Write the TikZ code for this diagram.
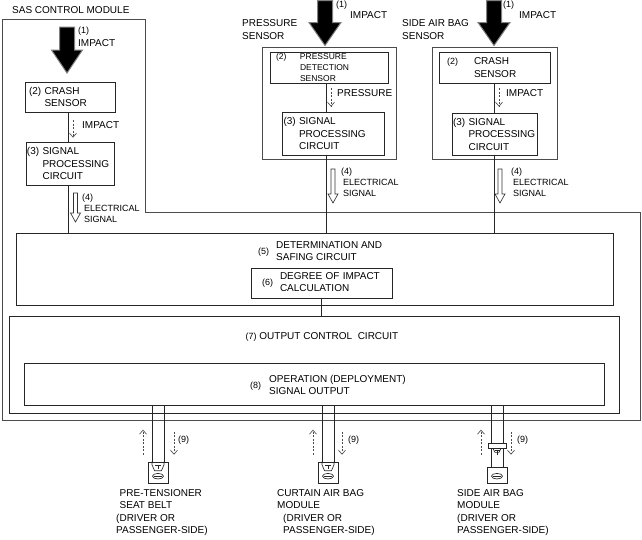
\documentclass[tikz,border=0pt]{standalone}
\usepackage{fontspec}
\setmainfont{Liberation Sans}
\usetikzlibrary{positioning,calc,arrows.meta}

\tikzset{
  every node/.style={font=\fontsize{10}{12.5}\selectfont, inner sep=0pt},
  blk/.style={draw=black!85, line width=0.65pt},
  frm/.style={draw=black!70, line width=0.9pt},
  sml/.style={font=\fontsize{9}{11}\selectfont},
  psz/.style={font=\fontsize{8.5}{11}\selectfont},
  devlbl/.style={font=\fontsize{10}{12.3}\selectfont, align=left, anchor=north west},
  bigarrow/.style={fill=black, draw=black!50, line width=1pt},
  hollow/.style={fill=white, draw=black!80, line width=0.65pt},
  flow/.style={draw=black!70, line width=0.65pt, dash pattern=on 2pt off 1.5pt, -{Straight Barb[length=4pt,width=7pt]}},
  wire/.style={draw=black!85, line width=0.65pt},
}

\begin{document}
\begin{tikzpicture}[x=1pt, y=-1pt]
    \useasboundingbox (0,0) rectangle (642,539);

    % SAS control module
    \draw[frm] (2,19) -- (145,19) -- (145,212) -- (640,212) -- (640,420) -- (2,420) -- cycle;
    \node[anchor=west] (sas) at (12,10.5) {SAS CONTROL MODULE};

    \filldraw[bigarrow] (59.5,27) -- ++(15,0) -- ++(0,23) -- ++(8,0) -- ++(-15.5,23) -- ++(-15.5,-23) -- ++(8,0) -- cycle;
    \node[sml, anchor=west] (imp1n) at (78,31) {(1)};
    \node[anchor=west] (imp1t) at (78,43.5) {IMPACT};

    \node[blk, text width=82pt, inner xsep=4pt, minimum height=30pt, align=left] (crash1) at (70,97) {(2) CRASH\\\hphantom{(2) }SENSOR};
    \node[blk, text width=86pt, inner xsep=1pt, minimum height=43pt, align=left] (sig1) at (70,163.5) {(3) SIGNAL\\\hphantom{(3) }PROCESSING\\\hphantom{(3) }CIRCUIT};
    \coordinate (c1) at (68,0);
    \draw[flow] ($(crash1.south)+(3,8)$) -- ($(sig1.north)+(3,-4)$);
    \node[anchor=west] (fl1) at (82,125) {IMPACT};

    \draw[hollow] (73.5,193) -- ++(4,0) -- ++(0,20) -- ++(3,0) -- ++(-5,9) -- ++(-5,-9) -- ++(3,0) -- cycle;
    \node[sml, anchor=west, align=left] (el1) at (82,208.5) {(4)\\\hspace*{2pt}ELECTRICAL\\\hspace*{2pt}SIGNAL};

    % Pressure sensor
    \node[anchor=north west, align=left] (pslbl) at (242,19.5) {PRESSURE\\SENSOR};
    \filldraw[bigarrow] (317.5,0.5) -- ++(15,0) -- ++(0,22) -- ++(8.5,0) -- ++(-16,23) -- ++(-16,-23) -- ++(8.5,0) -- cycle;
    \node[sml, anchor=west] (imp2n) at (336,5) {(1)};
    \node[anchor=west] (imp2t) at (350,15) {IMPACT};

    \node[frm, minimum width=134pt, minimum height=112pt] (psens) at (329,103) {};
    \node[blk, psz, text width=106pt, inner xsep=6pt, minimum height=31pt, align=left] (pdet) at (329,67.5) {\makebox[24pt][l]{(2)}PRESSURE\\\hspace*{24pt}DETECTION\\\hspace*{24pt}SENSOR};
    \node[blk, text width=99pt, inner xsep=1.5pt, minimum height=43pt, align=left] (sig2) at (333,133.5) {(3) SIGNAL\\\hphantom{(3) }PROCESSING\\\hphantom{(3) }CIRCUIT};
    \coordinate (c2) at (326,0);
    \draw[flow] ($(pdet.south)+(2,5)$) -- ($(sig2.north)+(-2,-5)$);
    \node[anchor=west] (fl2) at (337,93) {PRESSURE};

    \draw[hollow] (331,169) -- ++(4,0) -- ++(0,25) -- ++(3,0) -- ++(-5,9) -- ++(-5,-9) -- ++(3,0) -- cycle;
    \node[sml, anchor=west, align=left] (el2) at (341,182.5) {(4)\\\hspace*{2pt}ELECTRICAL\\\hspace*{2pt}SIGNAL};

    % Side air bag sensor
    \node[anchor=north west, align=left] (sablbl) at (402,19.5) {SIDE AIR BAG\\SENSOR};
    \filldraw[bigarrow] (486.5,0.5) -- ++(15,0) -- ++(0,22) -- ++(8.5,0) -- ++(-16,23) -- ++(-16,-23) -- ++(8.5,0) -- cycle;
    \node[sml, anchor=west] (imp3n) at (503,5) {(1)};
    \node[anchor=west] (imp3t) at (519,15) {IMPACT};

    \node[frm, minimum width=125pt, minimum height=112pt] (sab) at (494.5,103) {};
    \node[blk, text width=95pt, inner xsep=8pt, minimum height=31pt, align=left] (crash3) at (494.5,67.5) {\makebox[27pt][l]{\fontsize{9}{11}\selectfont(2)}CRASH\\\hspace*{27pt}SENSOR};
    \node[blk, text width=83pt, inner xsep=1pt, minimum height=42pt, align=left] (sig3) at (494.5,134) {(3) SIGNAL\\\hphantom{(3) }PROCESSING\\\hphantom{(3) }CIRCUIT};
    \coordinate (c3) at (494,0);
    \draw[flow] ($(crash3.south)+(4.5,5)$) -- ($(sig3.north)+(4.5,-6)$);
    \node[anchor=west] (fl3) at (506,93) {IMPACT};

    \draw[hollow] (498,169) -- ++(4,0) -- ++(0,25) -- ++(3,0) -- ++(-5,9) -- ++(-5,-9) -- ++(3,0) -- cycle;
    \node[sml, anchor=west, align=left] (el3) at (511,182.5) {(4)\\\hspace*{2pt}ELECTRICAL\\\hspace*{2pt}SIGNAL};

    % Determination and output
    \node[blk, minimum width=597pt, minimum height=72pt] (det) at (314.5,269) {};
    \node[anchor=west] (detlbl) at (258,252) {\begin{tabular}{@{}c@{\hspace{7pt}}l@{}}{\fontsize{9}{10}\selectfont(5)}&\begin{tabular}{@{}l@{}}DETERMINATION AND\\SAFING CIRCUIT\end{tabular}\end{tabular}};
    \node[blk, text width=119pt, inner xsep=11pt, minimum height=30pt, align=left] (deg) at (321.5,283) {\begin{tabular}{@{}c@{\hspace{7pt}}l@{}}{\fontsize{9}{10}\selectfont(6)}&\begin{tabular}{@{}l@{}}DEGREE OF IMPACT\\CALCULATION\end{tabular}\end{tabular}};

    \node[blk, minimum width=610pt, minimum height=97pt] (outc) at (314,364.5) {};
    \node (outclbl) at (322,337) {{\fontsize{9}{10}\selectfont(7)} OUTPUT CONTROL\ \ CIRCUIT};
    \node[blk, minimum width=580pt, minimum height=42pt] (sigout) at (314,384) {};
    \node[anchor=west] (sigoutlbl) at (250,386) {\begin{tabular}{@{}c@{\hspace{8pt}}l@{}}{\fontsize{9}{10}\selectfont(8)}&\begin{tabular}{@{}l@{}}OPERATION (DEPLOYMENT)\\SIGNAL OUTPUT\end{tabular}\end{tabular}};

    \draw[wire] (crash1.south -| c1) -- (sig1.north -| c1);
    \draw[wire] (sig1.south -| c1) -- (det.north -| c1);
    \draw[wire] (pdet.south -| c2) -- (sig2.north -| c2);
    \draw[wire] (sig2.south -| c2) -- (det.north -| c2);
    \draw[wire] (crash3.south -| c3) -- (sig3.north -| c3);
    \draw[wire] (sig3.south -| c3) -- (det.north -| c3);
    \draw[wire] (deg.south) -- (deg.south |- outc.north);

    % Devices
    \node[blk, minimum width=20pt, minimum height=21pt] (ptsb) at (158,472.5) {};
    \node[blk, minimum width=20pt, minimum height=21pt] (cab) at (328,472.5) {};
    \node[blk, minimum width=18pt, minimum height=5pt] (sabcon) at (497,445.5) {};
    \node[blk, minimum width=20pt, minimum height=16pt] (sabdev) at (497,475) {};

    \coordinate (w1) at ($(ptsb.north)+(-6,0)$);
    \coordinate (w2) at ($(ptsb.north)+(6,0)$);
    \coordinate (w3) at ($(cab.north)+(-6,0)$);
    \coordinate (w4) at ($(cab.north)+(6,0)$);
    \coordinate (w5) at ($(sabcon.north)+(-6,0)$);
    \coordinate (w6) at ($(sabcon.north)+(6,0)$);
    \draw[wire] (sigout.south -| w1) -- (w1) (sigout.south -| w2) -- (w2);
    \draw[wire] (sigout.south -| w3) -- (w3) (sigout.south -| w4) -- (w4);
    \draw[wire] (sigout.south -| w5) -- (w5) (sigout.south -| w6) -- (w6);
    \draw[wire] (sabcon.south -| w5) -- (sabdev.north -| w5) (sabcon.south -| w6) -- (sabdev.north -| w6);

    \begin{scope}[shift={(ptsb.north)}]
        \draw[wire] (-6,0) -- (-6,3) -- (-3.5,9) -- (3.5,9) -- (6,3) -- (6,0);
        \draw[wire] (-3,4) -- (3,4) (0,4) -- (0,7.5);
        \draw[wire] (0,14.5) ellipse (5.5 and 2.8);
        \draw[wire] (-4,14.5) -- (4,14.5);
    \end{scope}
    \begin{scope}[shift={(cab.north)}]
        \draw[wire] (-6,0) -- (-6,3) -- (-3.5,9) -- (3.5,9) -- (6,3) -- (6,0);
        \draw[wire] (-3,4) -- (3,4) (0,4) -- (0,7.5);
        \draw[wire] (0,14.5) ellipse (5.5 and 2.8);
        \draw[wire] (-4,14.5) -- (4,14.5);
    \end{scope}
    \begin{scope}[shift={(sabcon.south)}]
        \draw[wire] (-4,0) -- (-2,4) -- (2,4) -- (4,0);
        \draw[wire] (-2.5,1.5) -- (2.5,1.5) (0,1.5) -- (0,7);
    \end{scope}
    \begin{scope}[shift={(sabdev.north)}]
        \draw[wire] (0,9.5) ellipse (5.5 and 2.8);
        \draw[wire] (-4,9.5) -- (4,9.5);
    \end{scope}

    \draw[flow] ($(ptsb.north)+(-15,-7)$) -- ($(ptsb.north)+(-15,-32)$);
    \draw[flow] ($(ptsb.north)+(16,-30)$) -- ($(ptsb.north)+(16,-7)$);
    \node[sml, anchor=west] (n9a) at ($(ptsb.north)+(20,-22)$) {(9)};
    \draw[flow] ($(cab.north)+(-15,-7)$) -- ($(cab.north)+(-15,-32)$);
    \draw[flow] ($(cab.north)+(14,-30)$) -- ($(cab.north)+(14,-7)$);
    \node[sml, anchor=west] (n9b) at ($(cab.north)+(20,-22)$) {(9)};
    \draw[flow] ($(sabdev.north)+(-16,-12)$) -- ($(sabdev.north)+(-16,-37)$);
    \draw[flow] ($(sabdev.north)+(14,-35)$) -- ($(sabdev.north)+(14,-12)$);
    \node[sml, anchor=west] (n9c) at ($(sabdev.north)+(20,-27)$) {(9)};

    \node[devlbl] (ptsblbl) at (116,489.5) {\hspace*{3.5pt}PRE-TENSIONER\\\hspace*{3.5pt}SEAT BELT\\(DRIVER OR\\PASSENGER-SIDE)};
    \node[devlbl] (cablbl) at (277,489.5) {CURTAIN AIR BAG\\MODULE\\\hspace*{6pt}(DRIVER OR\\\hspace*{6pt}PASSENGER-SIDE)};
    \node[devlbl] (sablbl2) at (457,489.5) {SIDE AIR BAG\\MODULE\\(DRIVER OR\\PASSENGER-SIDE)};
\end{tikzpicture}
\end{document}
